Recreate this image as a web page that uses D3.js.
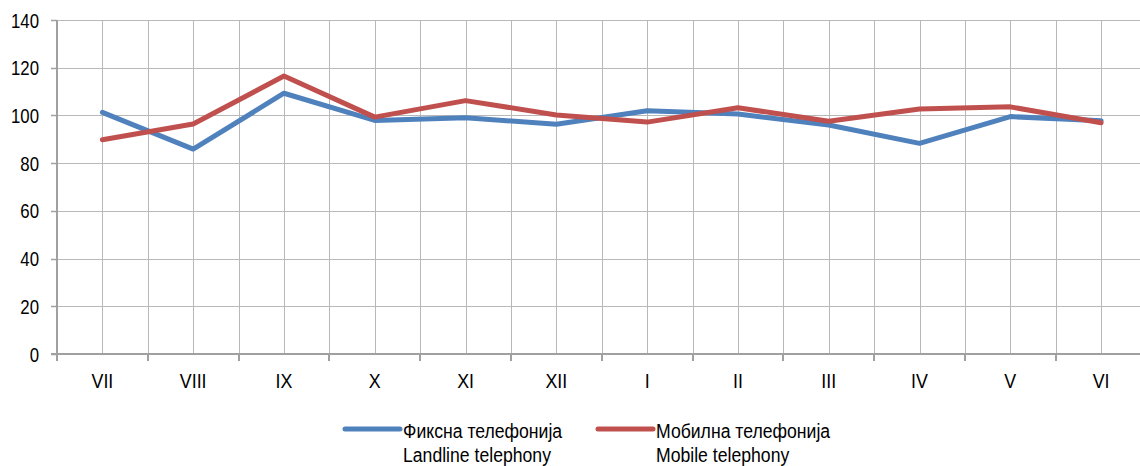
<!DOCTYPE html>
<html><head><meta charset="utf-8">
<script src="https://cdn.jsdelivr.net/npm/d3@7"></script>
<style>body{margin:0;background:#fff}svg{display:block}text{font-family:"Liberation Sans",Arial,sans-serif;fill:#000}</style>
</head><body><svg id="c" width="1140" height="466"></svg>
<script>
const months = ["VII","VIII","IX","X","XI","XII","I","II","III","IV","V","VI"];
const landline = [101.3,85.9,109.3,97.9,99.0,96.3,102.0,100.6,96.0,88.3,99.5,97.8];
const mobile = [89.8,96.4,116.5,99.3,106.2,100.2,97.2,103.2,97.6,102.7,103.6,96.9];
const yTicks = [0,20,40,60,80,100,120,140];
const seriesNames = [["Фиксна телефонија","Landline telephony"],["Мобилна телефонија","Mobile telephony"]];
const colors = ["#4f81bd","#c0504d"];

(function(){
const svg = d3.select("#c");
const pL = 57, pR = 1146.5, pT = 20, pB = 354;
const x = d3.scalePoint().domain(months).range([pL, pR]).padding(0.5);
const y = d3.scaleLinear().domain([0,140]).range([pB, pT]);
const step = x.step();

const vg = [];
months.forEach(m => { vg.push(x(m) - step/2); vg.push(x(m)); });
vg.push(x(months[months.length-1]) + step/2);
svg.append("g").selectAll("line").data(vg.filter(v => v > pL + 1 && v < 1140)).join("line")
  .attr("x1", d => Math.round(d)+0.5).attr("x2", d => Math.round(d)+0.5)
  .attr("y1", pT).attr("y2", pB).attr("stroke", "#b8b8b8").attr("stroke-width", 1);
svg.append("g").selectAll("line").data(yTicks.filter(t => t > 0)).join("line")
  .attr("x1", pL).attr("x2", 1140).attr("y1", d => Math.round(y(d))+0.5).attr("y2", d => Math.round(y(d))+0.5)
  .attr("stroke", "#b8b8b8").attr("stroke-width", 1);

const axisColor = "#a0a0a0";
svg.append("line").attr("x1", pL).attr("x2", pL).attr("y1", pT).attr("y2", pB+1).attr("stroke", axisColor).attr("stroke-width", 2);
svg.append("line").attr("x1", pL-6).attr("x2", 1140).attr("y1", pB).attr("y2", pB).attr("stroke", axisColor).attr("stroke-width", 2);
svg.append("g").selectAll("line").data(yTicks).join("line")
  .attr("x1", pL-6).attr("x2", pL).attr("y1", d => Math.round(y(d))+0.5).attr("y2", d => Math.round(y(d))+0.5)
  .attr("stroke", axisColor).attr("stroke-width", 1.5);
const bounds = months.map(m => x(m) - step/2).concat([x(months[11]) + step/2]);
svg.append("g").selectAll("line").data(bounds.filter(b => b < 1140)).join("line")
  .attr("x1", d => Math.round(d)).attr("x2", d => Math.round(d)).attr("y1", pB).attr("y2", pB+7)
  .attr("stroke", axisColor).attr("stroke-width", 2);

svg.append("g").selectAll("text").data(yTicks).join("text")
  .attr("transform", d => `translate(39,${y(d)}) scale(0.8,1)`)
  .attr("dy", "0.36em").attr("text-anchor", "end")
  .attr("font-size", 21).text(d => d);
svg.append("g").selectAll("text").data(months).join("text")
  .attr("transform", d => `translate(${x(d)},388) scale(0.85,1)`)
  .attr("text-anchor", "middle")
  .attr("font-size", 21).text(d => d);

const line = d3.line().x((d,i) => x(months[i])).y(d => y(d));
[landline, mobile].forEach((s, i) => {
  svg.append("path").datum(s).attr("d", line).attr("fill", "none")
    .attr("stroke", colors[i]).attr("stroke-width", 5).attr("stroke-linejoin", "round").attr("stroke-linecap", "round");
});

const lx = [345, 598];
seriesNames.forEach((n, i) => {
  const g = svg.append("g");
  g.append("line").attr("x1", lx[i]).attr("x2", lx[i]+55).attr("y1", 429).attr("y2", 429)
    .attr("stroke", colors[i]).attr("stroke-width", 5).attr("stroke-linecap", "round");
  g.append("text").attr("transform", `translate(${lx[i]+58},438) scale(0.84,1)`).attr("font-size", 21).text(n[0]);
  g.append("text").attr("transform", `translate(${lx[i]+58},461.5) scale(0.84,1)`).attr("font-size", 21).text(n[1]);
});
})();
</script></body></html>
